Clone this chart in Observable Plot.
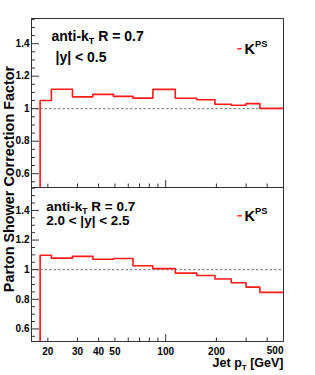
<!DOCTYPE html>
<html>
<head>
<meta charset="utf-8">
<script src="https://cdn.jsdelivr.net/npm/d3@7"></script>
<script src="https://cdn.jsdelivr.net/npm/@observablehq/plot@0.6"></script>
<style>
  html, body { margin: 0; padding: 0; background: #fff; }
  #chart { position: relative; width: 315px; height: 375px; background: #fff; overflow: hidden; }
  #chart svg { position: absolute; left: 0; overflow: visible; background: transparent; }
</style>
</head>
<body>
<div id="chart"></div>
<script>
// ---- data ----
const binEdges = [18, 21, 28, 37, 49, 64, 84, 114, 153, 196, 245, 300, 362, 507];
const kpsCentral = [1.05, 1.12, 1.073, 1.088, 1.076, 1.065, 1.119, 1.064, 1.055, 1.027, 1.021, 1.031, 1.002];
const kpsForward = [1.097, 1.078, 1.09, 1.07, 1.076, 1.027, 1.007, 0.977, 0.961, 0.937, 0.912, 0.882, 0.847];
const yTickValues = [0.6, 0.8, 1, 1.2, 1.4];
const xTickValues = [20, 30, 40, 50, 100, 200, 500];
const xMinorTicks = [20, 30, 40, 50, 60, 70, 80, 90, 200, 300, 400, 500];
const xMajorTicks = [100];
const jetLabel = "anti-k_{T} R = 0.7";
const rapidityLabels = ["|y| < 0.5", "2.0 < |y| < 2.5"];
const legendLabel = "K^{PS}";
const xTitle = "Jet p_{T} [GeV]";
const yTitle = "Parton Shower Correction Factor";

const X_DOMAIN = [16, 500];
const Y_DOMAIN = [0.515, 1.555];
const yMinorTicks = d3.range(11, 32).map(i => +(i * 0.05).toFixed(2)).filter(v => !yTickValues.includes(v));

const W = 315, ML = 31, MR = 32;
const RED = "#ff1a1a", FRAME = "#333";
const FONT = "'Liberation Sans', Arial, Helvetica, sans-serif";

function histSteps(vals) {
  const pts = [{x: binEdges[0], y: Y_DOMAIN[0]}];
  vals.forEach((v, i) => pts.push({x: binEdges[i], y: v}));
  pts.push({x: binEdges[vals.length], y: vals[vals.length - 1]});
  return pts;
}

const dash = {draw(ctx) { ctx.moveTo(-2.3, 0); ctx.lineTo(2.3, 0); }};

function richText(svg) {
  d3.select(svg).selectAll("text").each(function() {
    const s = this.textContent;
    if (!/[_^]\{/.test(s)) return;
    const holder = this.closest("[font-size]");
    const fs = holder ? parseFloat(holder.getAttribute("font-size")) : 12;
    const parts = [];
    const re = /([_^])\{([^}]*)\}/g;
    let last = 0, m;
    while ((m = re.exec(s))) {
      if (m.index > last) parts.push({t: s.slice(last, m.index)});
      parts.push({t: m[2], k: m[1]});
      last = re.lastIndex;
    }
    if (last < s.length) parts.push({t: s.slice(last)});
    this.textContent = "";
    let cur = 0;
    for (const p of parts) {
      const ts = document.createElementNS("http://www.w3.org/2000/svg", "tspan");
      const target = p.k === "_" ? fs * 0.24 : p.k === "^" ? -fs * 0.42 : 0;
      if (target !== cur) ts.setAttribute("dy", target - cur);
      cur = target;
      if (p.k) ts.setAttribute("font-size", fs * 0.64);
      ts.textContent = p.t;
      this.appendChild(ts);
    }
  });
  return svg;
}

function panel(values, o) {
  const frameW = W - ML - MR;
  const frameH = o.height - o.marginTop - o.marginBottom;
  const marks = [
    Plot.ruleY([1], {stroke: "#777", strokeDasharray: "2.5,2", strokeWidth: 1}),
    Plot.lineY(histSteps(values), {x: "x", y: "y", curve: "step-after", stroke: RED, strokeWidth: 1.6, clip: true}),
    Plot.tickY(yMinorTicks, {y: d => d, insetRight: frameW - 4, stroke: FRAME}),
    Plot.tickY(yTickValues, {y: d => d, insetRight: frameW - 8, stroke: FRAME}),
    Plot.tickX(xMinorTicks, {x: d => d, insetTop: frameH - 3.5, stroke: FRAME}),
    Plot.tickX(xMajorTicks, {x: d => d, insetTop: frameH - 7, stroke: FRAME}),
    Plot.axisY(yTickValues, {tickSize: 0, tickPadding: 2, fontSize: 10, fontWeight: "bold", tickFormat: d => String(d), label: null}),
    Plot.frame({stroke: FRAME}),
    Plot.text([jetLabel], {text: d => d, frameAnchor: "top-left", textAnchor: "start", lineAnchor: "bottom", dx: o.tx1, dy: o.ty1, fontSize: o.fs, fontWeight: "bold"}),
    Plot.text([o.rap], {text: d => d, frameAnchor: "top-left", textAnchor: "start", lineAnchor: "bottom", dx: o.tx2, dy: o.ty2, fontSize: o.fs, fontWeight: "bold"}),
    Plot.dot([0], {frameAnchor: "top-right", dx: -44, dy: o.ly - 4.7, symbol: dash, stroke: RED, strokeWidth: 1.4, fill: "none"}),
    Plot.text([legendLabel], {text: d => d, frameAnchor: "top-right", textAnchor: "start", lineAnchor: "bottom", dx: -39, dy: o.ly, fontSize: 14.5, fontWeight: "bold"})
  ];
  if (o.xAxis) {
    marks.push(
      Plot.text(xTickValues.filter(d => d !== 500), {x: d => d, text: d => String(d), frameAnchor: "bottom", lineAnchor: "bottom", dy: 13.5, fontSize: 10, fontWeight: "bold"}),
      Plot.text(xTickValues.filter(d => d === 500), {x: d => d, text: d => String(d), frameAnchor: "bottom", textAnchor: "end", lineAnchor: "bottom", dy: 12.5, fontSize: 10, fontWeight: "bold"}),
      Plot.text([xTitle], {text: d => d, frameAnchor: "bottom-right", textAnchor: "end", lineAnchor: "bottom", dy: 25, fontSize: 12.5, fontWeight: "bold"})
    );
  }
  if (o.yTitle) {
    marks.push(Plot.text([yTitle], {text: d => d, frameAnchor: "top-left", rotate: -90, textAnchor: "middle", lineAnchor: "bottom", dx: -17.5, dy: 160.5, fontSize: 14.4, fontWeight: "bold"}));
  }
  return Plot.plot({
    width: W, height: o.height,
    marginLeft: ML, marginRight: MR, marginTop: o.marginTop, marginBottom: o.marginBottom,
    style: {fontFamily: FONT, background: "transparent", overflow: "visible", color: "#000"},
    x: {type: "log", domain: X_DOMAIN, axis: null},
    y: {domain: Y_DOMAIN, axis: null},
    marks
  });
}

const chartEl = document.getElementById("chart");
const topPanel = panel(kpsCentral, {height: 188, marginTop: 18, marginBottom: 1, rap: rapidityLabels[0], tx1: 20, ty1: 22, tx2: 24, ty2: 43.5, ly: 35, fs: 14, yTitle: true});
topPanel.style.top = "0px";
const bottomPanel = panel(kpsForward, {height: 188, marginTop: 0, marginBottom: 34, rap: rapidityLabels[1], tx1: 14.7, ty1: 23, tx2: 14.7, ty2: 37.8, ly: 33, fs: 13.5, xAxis: true});
bottomPanel.style.top = "187px";
chartEl.appendChild(topPanel);
chartEl.appendChild(bottomPanel);
richText(topPanel);
richText(bottomPanel);
</script>
</body>
</html>
